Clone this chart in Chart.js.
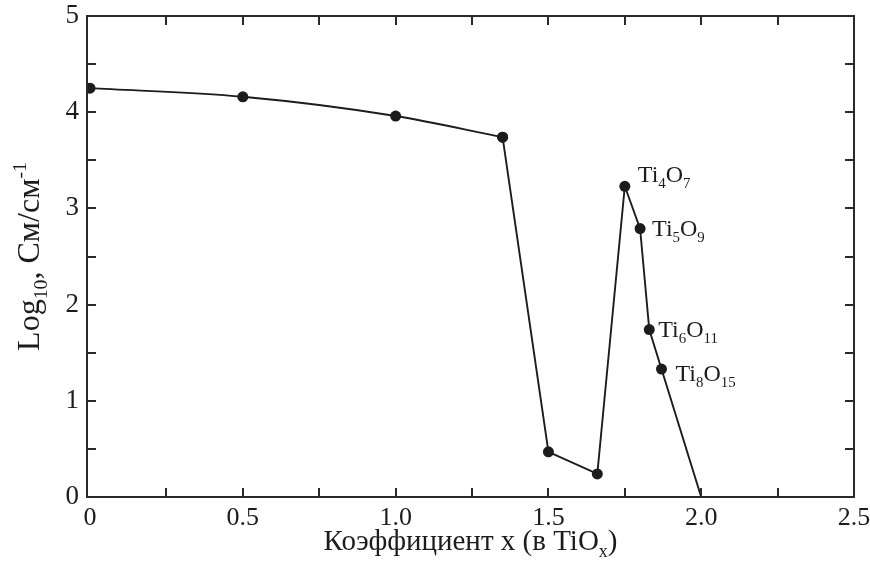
<!DOCTYPE html>
<html>
<head>
<meta charset="utf-8">
<script src="https://cdn.jsdelivr.net/npm/chart.js@4"></script>
<style>
  html, body { margin: 0; padding: 0; background: #fff; }
  #wrap { width: 870px; height: 574px; }
</style>
</head>
<body>
<div id="wrap"><canvas id="chart"></canvas></div>
<script>
// Conductivity of TiOx vs oxygen coefficient

const xValues = [0, 0.5, 1.0, 1.35, 1.5, 1.66, 1.75, 1.80, 1.83, 1.87, 2.0];
const yValues = [4.25, 4.16, 3.96, 3.74, 0.47, 0.24, 3.23, 2.79, 1.74, 1.33, 0];
const phaseIndex = [6, 7, 8, 9];
const phaseFormulas = ['Ti4O7', 'Ti5O9', 'Ti6O11', 'Ti8O15'];
const xTickValues = [0, 0.5, 1.0, 1.5, 2.0, 2.5];
const yTickValues = [0, 1, 2, 3, 4, 5];
const smoothCount = 4; // first points joined by a smooth curve

const FONT = "'Liberation Serif', 'Times New Roman', serif";
const INK = '#1c1c1c';

const smoothPart = [];
for (let i = 0; i < smoothCount; i++) smoothPart.push({x: xValues[i], y: yValues[i]});
const straightPart = [];
for (let i = smoothCount - 1; i < xValues.length; i++) straightPart.push({x: xValues[i], y: yValues[i]});

// draw text where digits (or marked parts) become sub/superscripts
function richWidth(ctx, parts, size) {
  let w = 0;
  for (const p of parts) {
    ctx.font = (p.k ? size * 0.62 : size) + 'px ' + FONT;
    w += ctx.measureText(p.t).width;
  }
  return w;
}
function drawRich(ctx, parts, x, y, size) {
  for (const p of parts) {
    const s = p.k ? size * 0.62 : size;
    ctx.font = s + 'px ' + FONT;
    let dy = 0;
    if (p.k === 'sub') dy = size * 0.25;
    if (p.k === 'sup') dy = -size * 0.42;
    ctx.fillText(p.t, x, y + dy);
    x += ctx.measureText(p.t).width;
  }
}
function formulaParts(str) {
  return str.match(/[A-Za-z]+|\d+/g).map(t => /\d/.test(t) ? {t: t, k: 'sub'} : {t: t});
}

const frameAndText = {
  id: 'frameAndText',
  afterDraw(chart) {
    const ctx = chart.ctx;
    const a = chart.chartArea;
    const xs = chart.scales.x, ys = chart.scales.y;
    ctx.save();
    ctx.strokeStyle = '#2a2a2a';
    ctx.lineWidth = 2;
    ctx.strokeRect(a.left, a.top, a.right - a.left, a.bottom - a.top);

    // inward ticks on all four sides, majors and minors alike
    const tl = 9;
    ctx.beginPath();
    for (let v = 0.25; v < 2.5; v += 0.25) {
      const px = Math.round(xs.getPixelForValue(v));
      ctx.moveTo(px, a.bottom); ctx.lineTo(px, a.bottom - tl);
      ctx.moveTo(px, a.top); ctx.lineTo(px, a.top + tl);
    }
    for (let v = 0.5; v < 5; v += 0.5) {
      const py = Math.round(ys.getPixelForValue(v));
      ctx.moveTo(a.left, py); ctx.lineTo(a.left + tl, py);
      ctx.moveTo(a.right, py); ctx.lineTo(a.right - tl, py);
    }
    ctx.stroke();

    ctx.fillStyle = INK;
    ctx.textBaseline = 'alphabetic';

    // phase labels next to their points
    const offsets = [[13, -4], [12, 7], [9, 7], [14, 12]];
    phaseIndex.forEach((idx, i) => {
      const px = xs.getPixelForValue(xValues[idx]);
      const py = ys.getPixelForValue(yValues[idx]);
      drawRich(ctx, formulaParts(phaseFormulas[i]), px + offsets[i][0], py + offsets[i][1], 24);
    });

    // x axis title
    const xt = [{t: 'Коэффициент x (в TiO'}, {t: 'x', k: 'sub'}, {t: ')'}];
    const cx = (a.left + a.right) / 2;
    drawRich(ctx, xt, cx - richWidth(ctx, xt, 29) / 2, 550, 29);

    // y axis title, rotated
    const yt = [{t: 'Log'}, {t: '10', k: 'sub'}, {t: ', См/см'}, {t: '-1', k: 'sup'}];
    ctx.translate(39, (a.top + a.bottom) / 2);
    ctx.rotate(-Math.PI / 2);
    drawRich(ctx, yt, -richWidth(ctx, yt, 32) / 2, 0, 32);
    ctx.restore();
  }
};

new Chart(document.getElementById('chart'), {
  type: 'line',
  data: {
    datasets: [
      {
        data: smoothPart,
        borderColor: INK,
        backgroundColor: INK,
        borderWidth: 1.9,
        tension: 0.4,
        cubicInterpolationMode: 'monotone',
        pointRadius: 5.5,
        pointBorderWidth: 0
      },
      {
        data: straightPart,
        borderColor: INK,
        backgroundColor: INK,
        borderWidth: 1.9,
        tension: 0,
        pointRadius: ctx => ctx.dataIndex === straightPart.length - 1 ? 0 : 5.5,
        pointBorderWidth: 0
      }
    ]
  },
  options: {
    responsive: true,
    maintainAspectRatio: false,
    animation: false,
    layout: { padding: { top: 16, right: 16, left: 0, bottom: 0 } },
    plugins: { legend: { display: false }, tooltip: { enabled: false } },
    scales: {
      x: {
        type: 'linear',
        min: -0.01,
        max: 2.5,
        grid: { display: false, drawTicks: false },
        border: { display: false },
        afterBuildTicks: scale => { scale.ticks = xTickValues.map(v => ({value: v})); },
        afterFit: scale => {
          scale.height = 77;
          scale.paddingLeft = 0;
          scale.paddingRight = 0;
        },
        ticks: {
          padding: 6,
          color: INK,
          font: { family: FONT, size: 26 },
          maxRotation: 0,
          callback: v => v === 0 ? '0' : v.toFixed(1)
        }
      },
      y: {
        type: 'linear',
        min: 0,
        max: 5,
        grid: { display: false, drawTicks: false },
        border: { display: false },
        afterBuildTicks: scale => { scale.ticks = yTickValues.map(v => ({value: v})); },
        afterFit: scale => {
          scale.width = 87;
          scale.paddingTop = 0;
          scale.paddingBottom = 0;
        },
        ticks: {
          padding: 8,
          color: INK,
          font: { family: FONT, size: 27 },
          callback: v => String(v)
        }
      }
    }
  },
  plugins: [frameAndText]
});
</script>
</body>
</html>
